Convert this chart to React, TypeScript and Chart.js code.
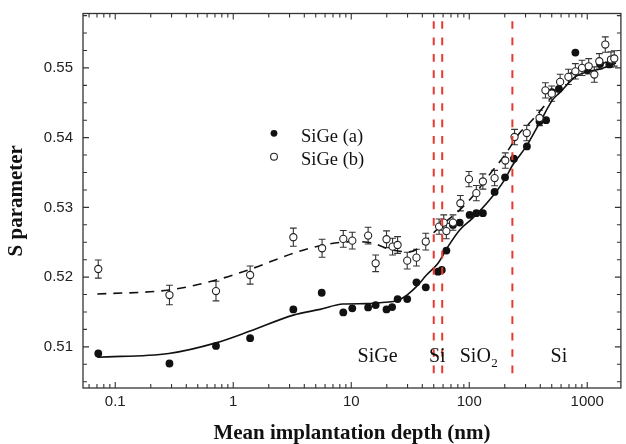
import React, { useEffect, useRef } from "react";
import { Chart, registerables } from "chart.js";

Chart.register(...registerables);

// ---- data ----
const aDepth = [0.0718, 0.288, 0.714, 1.39, 3.23, 5.62, 8.56, 10.2, 13.9, 16.1, 19.9, 22.2, 24.7, 29.8, 35.7, 42.8, 54.4, 58.5, 64, 72.8, 83, 100.7, 114.8, 130.5, 164, 201, 239, 308, 394, 448, 502, 575, 793, 1000, 1283, 1538];
const aS = [0.50905, 0.50761, 0.51014, 0.51125, 0.51537, 0.51776, 0.51494, 0.51552, 0.51566, 0.51599, 0.51537, 0.5157, 0.51685, 0.51685, 0.51925, 0.51853, 0.52078, 0.52102, 0.5238, 0.52749, 0.52782, 0.52892, 0.52917, 0.52917, 0.53222, 0.53431, 0.53697, 0.53874, 0.54233, 0.5425, 0.54652, 0.54698, 0.5522, 0.5497, 0.55056, 0.5505];

const bDepth = [0.0718, 0.288, 0.714, 1.39, 3.23, 5.66, 8.56, 10.2, 13.9, 16.1, 19.9, 22.4, 24.7, 29.8, 35.7, 42.8, 55.5, 60.8, 64, 72.8, 84.1, 99.4, 114.8, 130.5, 164, 202, 242, 307, 394, 442, 500, 589, 692, 793, 903, 1029, 1148, 1265, 1422, 1589, 1694];
const bS = [0.52116, 0.51743, 0.518, 0.5203, 0.52572, 0.52414, 0.52548, 0.52523, 0.52595, 0.52198, 0.52543, 0.52437, 0.52461, 0.52236, 0.52279, 0.52509, 0.52724, 0.52782, 0.5266, 0.52782, 0.5306, 0.53405, 0.53204, 0.53371, 0.5342, 0.53672, 0.54009, 0.54066, 0.54282, 0.54678, 0.54631, 0.54799, 0.54871, 0.54951, 0.55, 0.55023, 0.54905, 0.55095, 0.55335, 0.5512, 0.55135];
const bErr = [0.0013, 0.0014, 0.0014, 0.0013, 0.0013, 0.0013, 0.0012, 0.0012, 0.0012, 0.0012, 0.0012, 0.0012, 0.0012, 0.0012, 0.0012, 0.0012, 0.0011, 0.0011, 0.0011, 0.0011, 0.0011, 0.0011, 0.0011, 0.0011, 0.0011, 0.0011, 0.0011, 0.0011, 0.0011, 0.0011, 0.0011, 0.0011, 0.0011, 0.0011, 0.0011, 0.0011, 0.0011, 0.0011, 0.0011, 0.0011, 0.0011];

const fitADepth = [0.0705, 0.284, 0.714, 1.39, 3.23, 5.44, 8.5, 13.5, 19.6, 24.3, 30, 36, 43.4, 54.4, 66, 83, 107, 149, 199, 234, 304, 394, 510, 581, 802, 1042, 1265, 1750];
const fitAS = [0.50852, 0.50905, 0.51057, 0.51226, 0.51455, 0.51537, 0.51614, 0.5162, 0.5164, 0.5166, 0.5175, 0.5187, 0.5203, 0.52198, 0.52437, 0.52677, 0.52845, 0.53108, 0.53395, 0.53611, 0.53874, 0.5421, 0.54545, 0.54641, 0.5488, 0.5495, 0.5498, 0.5507];

const fitBDepth = [0.0705, 0.284, 0.681, 1.39, 3.23, 5.8, 10.4, 15.3, 19.9, 24.2, 30, 36, 43.4, 56.5, 83, 110, 150, 200, 267, 324, 478, 663, 983, 1397, 1630];
const fitBS = [0.51757, 0.51815, 0.51948, 0.52112, 0.52342, 0.52461, 0.52509, 0.52486, 0.52414, 0.52379, 0.5236, 0.524, 0.52533, 0.52724, 0.52964, 0.5318, 0.5348, 0.5375, 0.54066, 0.5421, 0.54545, 0.54879, 0.55, 0.55072, 0.55144];

const boundaryDepths = [50, 59, 232];
const boundaryTop = 0.5567;
const boundaryBottom = 0.50608;

const xTickValues = [0.1, 1, 10, 100, 1000];
const yTickValues = [0.51, 0.52, 0.53, 0.54, 0.55];
const xMin = 0.0533;
const xMax = 1928;
const yMin = 0.5041;
const yMax = 0.5578;

const regionNames = ["SiGe", "Si", "SiO", "Si"];
const regionSubs = ["", "", "2", ""];
const regionDepths = [16.7, 53.6, 83, 575];
const regionAligns = ["center", "center", "left", "center"];
const regionLabelS = 0.50784;

const legendNames = ["SiGe (a)", "SiGe (b)"];

const SERIF = '"Liberation Serif", "Times New Roman", serif';
const SANS = '"Liberation Sans", Arial, sans-serif';

const framePlugin = {
  id: "frameAndExtras",
  beforeDatasetsDraw(chart: any) {
    const ctx = chart.ctx;
    const xs = chart.scales.x;
    const ys = chart.scales.y;
    ctx.save();
    ctx.strokeStyle = "#333";
    ctx.lineWidth = 1.1;
    const cap = 3.4;
    bDepth.forEach((d, i) => {
      const px = xs.getPixelForValue(d);
      const top = ys.getPixelForValue(bS[i] + bErr[i]);
      const bot = ys.getPixelForValue(bS[i] - bErr[i]);
      ctx.beginPath();
      ctx.moveTo(px, top);
      ctx.lineTo(px, bot);
      ctx.moveTo(px - cap, top);
      ctx.lineTo(px + cap, top);
      ctx.moveTo(px - cap, bot);
      ctx.lineTo(px + cap, bot);
      ctx.stroke();
    });
    ctx.restore();
  },
  afterDatasetsDraw(chart: any) {
    const ctx = chart.ctx;
    const ca = chart.chartArea;
    const xs = chart.scales.x;
    const ys = chart.scales.y;
    ctx.save();
    // frame
    ctx.strokeStyle = "#333";
    ctx.lineWidth = 1.3;
    ctx.strokeRect(ca.left, ca.top, ca.right - ca.left, ca.bottom - ca.top);
    ctx.lineWidth = 1.1;
    ctx.beginPath();
    // x ticks (log, major + minor), bottom and top
    for (let e = -2; e <= 4; e++) {
      for (let m = 1; m <= 9; m++) {
        const v = m * Math.pow(10, e);
        if (v < xMin || v > xMax) continue;
        const px = xs.getPixelForValue(v);
        const len = m === 1 ? 6 : 4;
        ctx.moveTo(px, ca.bottom);
        ctx.lineTo(px, ca.bottom - len);
        ctx.moveTo(px, ca.top);
        ctx.lineTo(px, ca.top + len);
      }
    }
    // y ticks every 0.0025
    for (let k = 200; k <= 224; k++) {
      const v = k * 0.0025;
      if (v < yMin || v > yMax) continue;
      const py = ys.getPixelForValue(v);
      const len = k % 4 === 0 ? 6 : 4;
      ctx.moveTo(ca.left, py);
      ctx.lineTo(ca.left + len, py);
      ctx.moveTo(ca.right, py);
      ctx.lineTo(ca.right - len, py);
    }
    ctx.stroke();

    // region labels
    ctx.fillStyle = "#111";
    ctx.textBaseline = "alphabetic";
    const by = ys.getPixelForValue(regionLabelS);
    regionNames.forEach((name, i) => {
      const px = xs.getPixelForValue(regionDepths[i]);
      ctx.font = `20px ${SERIF}`;
      ctx.textAlign = regionAligns[i] as CanvasTextAlign;
      ctx.fillText(name, px, by);
      if (regionSubs[i]) {
        const w = ctx.measureText(name).width;
        ctx.font = `13px ${SERIF}`;
        ctx.textAlign = "left";
        ctx.fillText(regionSubs[i], px + w + 0.5, by + 5);
      }
    });

    // legend
    const lx = ca.left + 191;
    const ly = [ca.top + 119.8, ca.top + 143.2];
    ctx.font = `18.5px ${SERIF}`;
    ctx.textAlign = "left";
    legendNames.forEach((name, i) => {
      ctx.beginPath();
      ctx.arc(lx, ly[i], 3.4, 0, Math.PI * 2);
      if (i === 0) {
        ctx.fillStyle = "#111";
        ctx.fill();
      } else {
        ctx.fillStyle = "#fff";
        ctx.fill();
        ctx.strokeStyle = "#222";
        ctx.lineWidth = 1.1;
        ctx.stroke();
      }
      ctx.fillStyle = "#111";
      ctx.fillText(name, lx + 27, ly[i] + 8.2);
    });
    ctx.restore();
  },
};

export default function App() {
  const ref = useRef<HTMLCanvasElement>(null);
  useEffect(() => {
    const boundarySets = boundaryDepths.map((d) => ({
      type: "scatter" as const,
      data: [
        { x: d, y: boundaryTop },
        { x: d, y: boundaryBottom },
      ],
      showLine: true,
      pointRadius: 0,
      borderColor: "#e6392f",
      borderWidth: 2,
      borderDash: [7.7, 8.7],
      order: -1,
    }));
    const chart = new Chart(ref.current as HTMLCanvasElement, {
      type: "scatter",
      data: {
        datasets: [
          {
            data: bDepth.map((x, i) => ({ x, y: bS[i] })),
            pointRadius: 3.6,
            backgroundColor: "#fff",
            borderColor: "#222",
            borderWidth: 1.1,
            order: 0,
          },
          {
            data: aDepth.map((x, i) => ({ x, y: aS[i] })),
            pointRadius: 3.9,
            backgroundColor: "#111",
            borderColor: "#111",
            borderWidth: 0,
            order: 1,
          },
          {
            data: fitADepth.map((x, i) => ({ x, y: fitAS[i] })),
            showLine: true,
            pointRadius: 0,
            borderColor: "#111",
            borderWidth: 1.6,
            cubicInterpolationMode: "monotone",
            order: 3,
          },
          {
            data: fitBDepth.map((x, i) => ({ x, y: fitBS[i] })),
            showLine: true,
            pointRadius: 0,
            borderColor: "#111",
            borderWidth: 1.6,
            borderDash: [9, 7],
            cubicInterpolationMode: "monotone",
            order: 3,
          },
          ...boundarySets,
        ] as any,
      },
      options: {
        responsive: false,
        animation: false,
        devicePixelRatio: 1,
        events: [],
        layout: { padding: { left: 0, right: 4, top: 13.5, bottom: 0 } },
        plugins: { legend: { display: false }, tooltip: { enabled: false } },
        scales: {
          x: {
            type: "logarithmic",
            min: xMin,
            max: xMax,
            afterBuildTicks: (s: any) => {
              s.ticks = xTickValues.map((v) => ({ value: v }));
            },
            afterFit: (s: any) => {
              s.height = 56;
            },
            border: { display: false },
            grid: { display: true, drawOnChartArea: false, drawTicks: false, color: "transparent" },
            ticks: {
              autoSkip: false,
              maxRotation: 0,
              padding: 5,
              color: "#222",
              font: { family: SANS, size: 15 },
              callback: (v: any) => String(v),
            },
            title: {
              display: true,
              text: "Mean implantation depth (nm)",
              color: "#111",
              padding: 0,
              font: { family: SERIF, size: 21, weight: "bold", lineHeight: 1 },
            },
          },
          y: {
            type: "linear",
            min: yMin,
            max: yMax,
            afterBuildTicks: (s: any) => {
              s.ticks = yTickValues.map((v) => ({ value: v }));
            },
            afterFit: (s: any) => {
              s.width = 83;
            },
            border: { display: false },
            grid: { display: true, drawOnChartArea: false, drawTicks: true, tickLength: 10, tickColor: "transparent", color: "transparent" },
            ticks: {
              padding: 0,
              color: "#222",
              font: { family: SANS, size: 15 },
              callback: (v: any) => Number(v).toFixed(2),
            },
            title: {
              display: true,
              text: "S parameter",
              color: "#111",
              padding: { top: 6.5, bottom: 0 },
              font: { family: SERIF, size: 21, weight: "bold", lineHeight: 1 },
            },
          },
        },
      } as any,
      plugins: [framePlugin],
    });
    return () => chart.destroy();
  }, []);
  return (
    <div style={{ position: "absolute", left: 0, top: 0, width: 626, height: 444, background: "#fff" }}>
      <canvas ref={ref} width={626} height={444} style={{ display: "block" }} />
    </div>
  );
}
